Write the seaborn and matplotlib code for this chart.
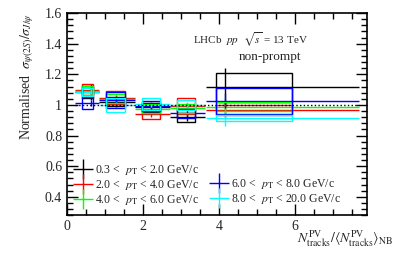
import matplotlib
matplotlib.use("Agg")
import matplotlib.pyplot as plt
from matplotlib.lines import Line2D
from matplotlib.patches import Rectangle
from matplotlib.ticker import MultipleLocator, FuncFormatter
import numpy as np
import seaborn as sns

# multiplicity bins
x_point = [0.62, 1.30, 2.22, 3.15, 4.16]
x_lo = [0.20, 0.84, 1.78, 2.70, 3.66]
x_hi = [0.84, 1.78, 2.70, 3.64, 7.70]
box_lo = [0.39, 1.03, 1.97, 2.90, 3.92]
box_hi = [0.68, 1.53, 2.45, 3.37, 5.92]

pt_labels = ["0.3 <  $p_{\\rm T}$ < 2.0 GeV/c",
             "2.0 <  $p_{\\rm T}$ < 4.0 GeV/c",
             "4.0 <  $p_{\\rm T}$ < 6.0 GeV/c",
             "6.0 <  $p_{\\rm T}$ < 8.0 GeV/c",
             "8.0 <  $p_{\\rm T}$ < 20.0 GeV/c"]
colors = ["black", "#ff0000", "#00ff00", "#0000ff", "#00ffff"]

values = [
    [1.085, 1.020, 0.985, 0.918, 1.114],  # 0.3-2
    [1.100, 1.048, 0.940, 0.993, 0.967],  # 2-4
    [1.094, 1.040, 0.975, 0.978, 0.989],  # 4-6
    [1.015, 1.033, 0.995, 0.945, 1.028],  # 6-8
    [1.083, 1.000, 1.006, 1.000, 0.912],  # 8-20
]
stat = [
    [0.050, 0.033, 0.025, 0.025, 0.130],
    [0.020, 0.020, 0.020, 0.020, 0.050],
    [0.020, 0.020, 0.020, 0.020, 0.050],
    [0.020, 0.020, 0.020, 0.020, 0.050],
    [0.020, 0.020, 0.020, 0.020, 0.050],
]
syst = [
    [0.040, 0.030, 0.030, 0.028, 0.095],
    [0.037, 0.045, 0.030, 0.050, 0.035],
    [0.030, 0.030, 0.030, 0.030, 0.030],
    [0.040, 0.054, 0.032, 0.030, 0.085],
    [0.025, 0.048, 0.038, 0.035, 0.020],
]

sns.set_style("ticks")
plt.rcParams["font.family"] = ["Liberation Serif", "DejaVu Serif"]
plt.rcParams["mathtext.fontset"] = "stix"

fig = plt.figure(figsize=(3.99, 2.57), dpi=100)
ax = fig.add_axes([0.168, 0.163, 0.752, 0.786])

xp = np.array(x_point)
xerr = [xp - np.array(x_lo), np.array(x_hi) - xp]

for i in range(len(values)):
    c = colors[i]
    ax.errorbar(xp, values[i], xerr=xerr, yerr=stat[i], fmt="none",
                ecolor=c, elinewidth=1.0, capsize=0, zorder=3)
    for j in range(len(xp)):
        ax.add_patch(Rectangle((box_lo[j], values[i][j] - syst[i][j]),
                               box_hi[j] - box_lo[j], 2 * syst[i][j],
                               fill=False, edgecolor=c, linewidth=1.0, zorder=4))

ax.hlines(1.0, 0.2, 7.7, colors="black", linestyles=":", linewidth=1.0, zorder=5)

ax.set_xlim(0, 7.9)
ax.set_ylim(0.28, 1.6)
ax.xaxis.set_major_locator(MultipleLocator(2))
ax.xaxis.set_minor_locator(MultipleLocator(0.5))
ax.yaxis.set_major_locator(MultipleLocator(0.2))
ax.yaxis.set_minor_locator(MultipleLocator(0.04))
ax.yaxis.set_major_formatter(FuncFormatter(lambda v, p: f"{v:g}"))
ax.tick_params(which="both", direction="in", top=True, right=True, labelsize=10,
               width=1.0, color="black")
ax.tick_params(which="major", length=8)
ax.tick_params(which="minor", length=4)
for s in ax.spines.values():
    s.set_linewidth(1.2)
    s.set_color("black")


def cross(c):
    return Line2D([], [], color=c, marker="+", markersize=14,
                  markeredgewidth=1.0, linestyle="none")


handles = [cross(colors[0]), cross(colors[1]), cross(colors[2]),
           Line2D([], [], linestyle="none"),
           cross(colors[3]), cross(colors[4])]
labels = [pt_labels[0], pt_labels[1], pt_labels[2], "", pt_labels[3], pt_labels[4]]
ax.legend(handles, labels, ncol=2, loc="lower left", bbox_to_anchor=(0.0, 0.0),
          frameon=False, fontsize=8.5, handlelength=1.3, handletextpad=0.4,
          columnspacing=1.0, labelspacing=0.08, borderaxespad=0.3)

ax.text(0.61, 0.866, "LHCb  $pp$  $\\sqrt{s}$ = 13 TeV", transform=ax.transAxes,
        fontsize=8, ha="center", va="center")
ax.text(0.675, 0.782, "non-prompt", transform=ax.transAxes,
        fontsize=9.5, ha="center", va="center")

fig.text(0.068, 0.95, "Normalised  $\\sigma_{\\psi(2S)}/\\sigma_{J/\\psi}$",
         rotation=90, ha="center", va="top", fontsize=10)
fig.text(0.985, 0.072,
         "$N_{\\rm tracks}^{\\rm PV}/\\langle N_{\\rm tracks}^{\\rm PV}\\rangle_{\\rm NB}$",
         ha="right", va="center", fontsize=10)

fig.savefig("out.png", dpi=100)
